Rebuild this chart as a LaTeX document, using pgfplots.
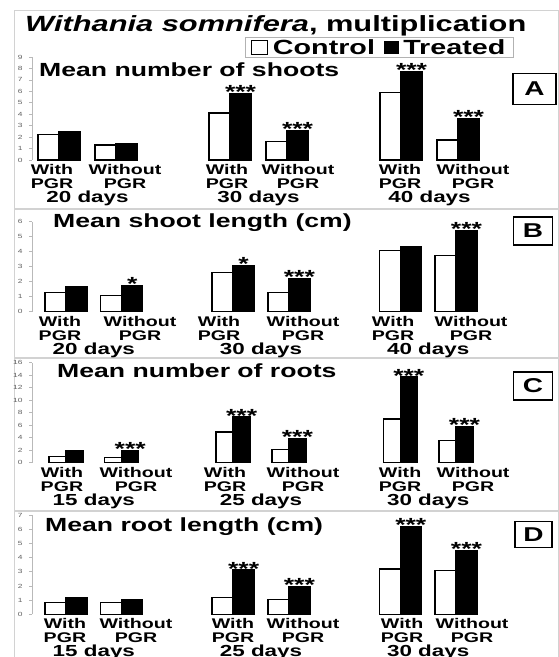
\documentclass[border=0pt]{standalone}
\usepackage{fontspec}
\setmainfont{Liberation Sans}[FakeStretch=1.4]
\usepackage{pgfplots}
\pgfplotsset{compat=1.18}

\pgfplotsset{
  panel/.style={
    scale only axis, width=458pt, ymin=0, clip=false,
    axis y line*=left, axis x line*=bottom,
    x axis line style={draw=none},
    y axis line style={draw=gray!55, line width=0.8pt},
    xticklabels={{With\\PGR},{Without\\PGR},{With\\PGR},{Without\\PGR},{With\\PGR},{Without\\PGR}},
    xticklabel style={align=center, font=\fontsize{14}{14}\selectfont\bfseries, inner sep=0pt, yshift=-1pt},
    xtick style={draw=none},
    ytick style={draw=gray!55, line width=0.6pt},
    tick align=outside, major tick length=3pt,
    yticklabel style={font=\fontsize{6}{6}\selectfont, text=gray!75!black, xshift=-3pt},
    /pgf/number format/assume math mode=true,
  },
  ctrl/.style={ybar, bar width=#1, bar shift=-#1/2, draw=black, fill=white, line width=1.3pt,
    legend image code/.code={\draw[draw=black,fill=white,line width=1.3pt] (0pt,-7pt) rectangle (16pt,7pt);}},
  trt/.style={ybar, bar width=#1, bar shift=#1/2, draw=black, fill=black, line width=1.3pt,
    legend image code/.code={\draw[draw=black,fill=black,line width=1.3pt] (0pt,-6pt) rectangle (13pt,6pt);}},
}

\begin{document}
\begin{tikzpicture}[
  star/.style={anchor=base, font=\fontsize{19}{19}\selectfont\bfseries, inner sep=0pt, yshift=-5pt},
  grp/.style={anchor=base, font=\fontsize{16}{16}\selectfont\bfseries, inner sep=0pt, yshift=-42.5pt},
  ptitle/.style={anchor=base west, font=\fontsize{19}{19}\selectfont\bfseries, inner sep=0pt},
  letter/.style={draw=black, line width=1.2pt, font=\fontsize{20}{20}\selectfont\bfseries, inner sep=0pt, fill=white}
]
\path[use as bounding box] (0pt,0pt) rectangle (559pt,657pt);

% frame
\draw[gray!35, line width=1pt] (14pt,0pt) -- (14pt,646pt) -- (558pt,646pt) -- (558pt,0pt);
\draw[gray!35, line width=1.2pt] (14pt,448pt) -- (559pt,448pt);
\draw[gray!35, line width=1.2pt] (14pt,299pt) -- (559pt,299pt);
\draw[gray!35, line width=1.2pt] (14pt,146pt) -- (559pt,146pt);

\node[anchor=base west, font=\fontsize{22}{22}\selectfont\bfseries, inner sep=0pt] at (25pt,625pt) {\textit{Withania somnifera}, multiplication};

% ---------------- Panel A ----------------
\begin{axis}[panel, at={(32pt,497pt)}, anchor=south west, height=103pt,
  xmin=-0.474, xmax=7.56, ymax=9, ytick={0,1,...,9},
  xtick={-0.123,1.158,2.947,4.193,5.982,7.263},
  legend style={at={(axis description cs:0.465,1.194)}, anchor=north west, draw=gray!60,
    font=\fontsize{20.5}{20.5}\selectfont\bfseries, inner xsep=6pt, inner ysep=0.5pt,
    nodes={inner sep=1.5pt},
    /tikz/every odd column/.append style={column sep=3pt},
    /tikz/every even column/.append style={column sep=8pt}},
  legend columns=2]
\addplot[ctrl=21pt] coordinates {(0,2.2) (1,1.3) (3,4.1) (4,1.6) (6,5.9) (7,1.75)};
\addplot[trt=21pt] coordinates {(0,2.5) (1,1.4) (3,5.8) (4,2.6) (6,7.7) (7,3.6)};
\legend{Control,Treated}
\node[star] at ([xshift=10.5pt]axis cs:3,5.8) {***};
\node[star] at ([xshift=10.5pt]axis cs:4,2.6) {***};
\node[star] at ([xshift=10.5pt]axis cs:6,7.7) {***};
\node[star] at ([xshift=10.5pt]axis cs:7,3.6) {***};
\node[grp] at (axis cs:0.5,0) {20 days};
\node[grp] at (axis cs:3.5,0) {30 days};
\node[grp] at (axis cs:6.5,0) {40 days};
\end{axis}

% ---------------- Panel B ----------------
\begin{axis}[panel, at={(32pt,345.3pt)}, anchor=south west, height=90pt,
  xmin=-0.61, xmax=7.61, ymax=6, ytick={0,1,...,6},
  xtick={-0.108,1.329,2.747,4.255,5.871,7.271}]
\addplot[ctrl=21pt] coordinates {(0,1.27) (1,1.07) (3,2.6) (4,1.27) (6,4.1) (7,3.73)};
\addplot[trt=21pt] coordinates {(0,1.67) (1,1.73) (3,3.05) (4,2.18) (6,4.37) (7,5.4)};
\node[star] at ([xshift=10.5pt]axis cs:1,1.73) {*};
\node[star] at ([xshift=10.5pt]axis cs:3,3.05) {*};
\node[star] at ([xshift=10.5pt]axis cs:4,2.18) {***};
\node[star] at ([xshift=10.5pt]axis cs:7,5.4) {***};
\node[grp] at (axis cs:0.5,0) {20 days};
\node[grp] at (axis cs:3.5,0) {30 days};
\node[grp] at (axis cs:6.5,0) {40 days};
\end{axis}

% ---------------- Panel C ----------------
\begin{axis}[panel, at={(32pt,194.3pt)}, anchor=south west, height=100pt,
  xmin=-0.61, xmax=7.61, ymax=16, ytick={0,2,...,16},
  xtick={-0.072,1.257,2.855,4.255,5.996,7.307}]
\addplot[ctrl=17pt] coordinates {(0,0.96) (1,0.8) (3,4.9) (4,2.1) (6,7.0) (7,3.6)};
\addplot[trt=17pt] coordinates {(0,2.0) (1,1.9) (3,7.3) (4,3.8) (6,13.7) (7,5.8)};
\node[star] at ([xshift=8.5pt]axis cs:1,1.9) {***};
\node[star] at ([xshift=8.5pt]axis cs:3,7.3) {***};
\node[star] at ([xshift=8.5pt]axis cs:4,3.8) {***};
\node[star] at ([xshift=8.5pt]axis cs:6,13.7) {***};
\node[star] at ([xshift=8.5pt]axis cs:7,5.8) {***};
\node[grp] at (axis cs:0.5,0) {15 days};
\node[grp] at (axis cs:3.5,0) {25 days};
\node[grp] at (axis cs:6.5,0) {30 days};
\end{axis}

% ---------------- Panel D ----------------
\begin{axis}[panel, at={(32pt,42.7pt)}, anchor=south west, height=99.3pt,
  xmin=-0.61, xmax=7.61, ymax=7, ytick={0,1,...,7},
  xtick={-0.018,1.257,2.998,4.255,6.032,7.289}]
\addplot[ctrl=21pt] coordinates {(0,0.85) (1,0.83) (3,1.17) (4,1.06) (6,3.19) (7,3.07)};
\addplot[trt=21pt] coordinates {(0,1.2) (1,1.06) (3,3.12) (4,1.94) (6,6.2) (7,4.5)};
\node[star] at ([xshift=10.5pt]axis cs:3,3.12) {***};
\node[star] at ([xshift=10.5pt]axis cs:4,1.94) {***};
\node[star] at ([xshift=10.5pt]axis cs:6,6.2) {***};
\node[star] at ([xshift=10.5pt]axis cs:7,4.5) {***};
\node[grp] at (axis cs:0.5,0) {15 days};
\node[grp] at (axis cs:3.5,0) {25 days};
\node[grp] at (axis cs:6.5,0) {30 days};
\end{axis}

% panel titles
\node[ptitle] at (39pt,580pt) {Mean number of shoots};
\node[ptitle] at (53pt,429pt) {Mean shoot length (cm)};
\node[ptitle] at (57pt,279pt) {Mean number of roots};
\node[ptitle] at (45pt,125pt) {Mean root length (cm)};

% letter boxes
\node[letter, minimum width=43pt, minimum height=31pt] at (534.5pt,568pt) {A};
\node[letter, minimum width=39pt, minimum height=28pt] at (533pt,426pt) {B};
\node[letter, minimum width=39pt, minimum height=28pt] at (533pt,271pt) {C};
\node[letter, minimum width=37pt, minimum height=26pt] at (533.5pt,122.5pt) {D};
\end{tikzpicture}
\end{document}
